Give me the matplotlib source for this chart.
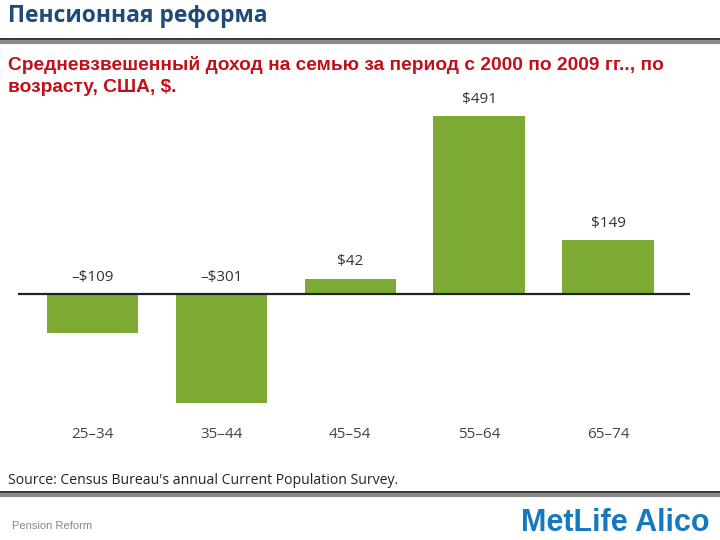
import numpy as np
import matplotlib.pyplot as plt
from matplotlib.lines import Line2D

# %% Daten
groups = ["25–34", "35–44", "45–54", "55–64", "65–74"]
income_change = [-109, -301, 42, 491, 149]
value_labels = ["–$109", "–$301", "$42", "$491", "$149"]

green = "#7DAA33"
W, H = 720, 540

# %% Figur
fig = plt.figure(figsize=(7.2, 5.4), dpi=100)
fig.patch.set_facecolor("white")

# Achsen in Pixelkoordinaten platzieren (oben 95 px, unten 420 px)
ax_top, ax_bot = 95, 420
ax = fig.add_axes([18 / W, 1 - ax_bot / H, 672 / W, (ax_bot - ax_top) / H])
upp = 2.76  # Einheiten pro Pixel
ax.set_ylim(-(ax_bot - 294) * upp, (294 - ax_top) * upp)
ax.set_xlim(-0.578, 4.636)

x = np.arange(len(groups))
ax.bar(x, income_change, width=0.71, color=green, zorder=2)
ax.axhline(0, color="#222222", lw=1.6, zorder=3)

for i, v in enumerate(income_change):
    y = max(v, 0) + 17 * upp
    ax.text(i, y, value_labels[i], ha="center", va="center", fontsize=11,
            family="Open Sans", color="#333333")
    ax.text(i, -(435 - 294) * upp, groups[i], ha="center", va="center",
            fontsize=11, family="Open Sans", color="#444444", clip_on=False)

ax.axis("off")

# %% Texte und Linien
fig.text(8 / W, 1 - 16 / H, "Пенсионная реформа", ha="left", va="center",
         fontsize=16.5, fontweight="bold", family="Open Sans", color="#1F4A7A")
fig.text(8 / W, 1 - 65 / H,
         "Средневзвешенный доход на семью за период с 2000 по 2009 гг.., по",
         ha="left", va="center", fontsize=13.8, fontweight="bold",
         family="Liberation Sans", color="#C0111A")
fig.text(8 / W, 1 - 87 / H, "возрасту, США, $.",
         ha="left", va="center", fontsize=13.8, fontweight="bold",
         family="Liberation Sans", color="#C0111A")

for yy, lw, c in [(39, 1.2, "#111111"), (42, 3.0, "#8A8A8A")]:
    fig.add_artist(Line2D([0, 1], [1 - yy / H, 1 - yy / H], color=c, lw=lw,
                          transform=fig.transFigure))
for yy, lw, c in [(492, 1.2, "#111111"), (495, 3.0, "#8A8A8A")]:
    fig.add_artist(Line2D([0, 1], [1 - yy / H, 1 - yy / H], color=c, lw=lw,
                          transform=fig.transFigure))

fig.text(8 / W, 1 - 480 / H, "Source: Census Bureau's annual Current Population Survey.",
         ha="left", va="center", fontsize=10.1, family="Open Sans", color="#222222")
fig.text(12 / W, 1 - 526 / H, "Pension Reform", ha="left", va="center",
         fontsize=8, family="Liberation Sans", color="#888888")
fig.text(710 / W, 1 - 523 / H, "MetLife Alico", ha="right", va="center",
         fontsize=22, fontweight="heavy", family="Liberation Sans", color="#1479BE")

fig.savefig("out.png", dpi=100)
